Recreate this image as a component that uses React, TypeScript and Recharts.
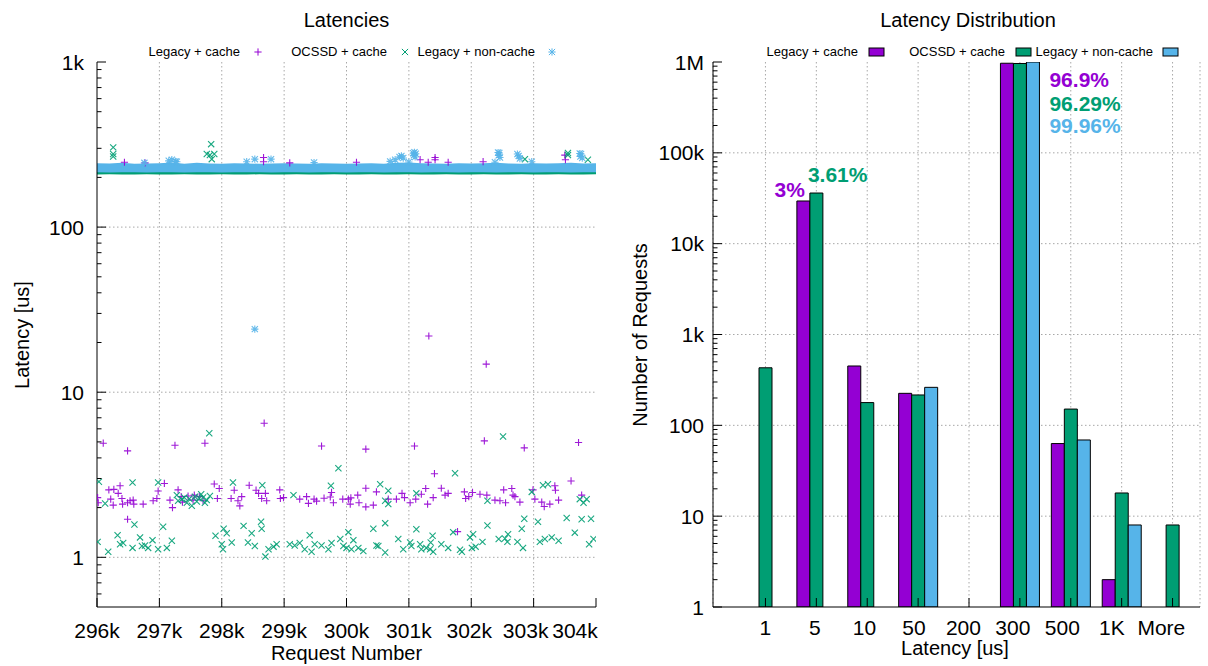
import {
  ComposedChart,
  BarChart,
  Bar,
  Area,
  Scatter,
  XAxis,
  YAxis,
  CartesianGrid,
  LabelList,
} from 'recharts'

const PURPLE = '#9400d3'
const GREEN = '#009e73'
const BLUE = '#56b4e9'
const GRID = '#a8a8a8'
const FONT = '"Liberation Sans", Arial, Helvetica, sans-serif'

const seriesNames = ['Legacy + cache', 'OCSSD + cache', 'Legacy + non-cache']

// ---- Latencies (scatter) ----
const reqTicks = [296000, 297000, 298000, 299000, 300000, 301000, 302000, 303000, 304000]
const reqTickLabels = ['296k', '297k', '298k', '299k', '300k', '301k', '302k', '303k', '304k']

const latTicks = [
  0.6, 0.7, 0.8, 0.9, 1, 2, 3, 4, 5, 6, 7, 8, 9, 10, 20, 30, 40, 50, 60, 70, 80, 90,
  100, 200, 300, 400, 500, 600, 700, 800, 900, 1000,
]
const latTickLabels: Record<number, string> = { 1: '1', 10: '10', 100: '100', 1000: '1k' }

// dense band around ~230us, per 200 requests
const bandX = [
  296000, 296200, 296400, 296600, 296800, 297000, 297200, 297400, 297600, 297800, 298000,
  298200, 298400, 298600, 298800, 299000, 299200, 299400, 299600, 299800, 300000, 300200,
  300400, 300600, 300800, 301000, 301200, 301400, 301600, 301800, 302000, 302200, 302400,
  302600, 302800, 303000, 303200, 303400, 303600, 303800, 304000,
]
const blueBandHigh = [
  244, 243, 245, 242, 243, 244, 246, 242, 245, 243, 242, 244, 243, 242, 243, 244, 243, 242,
  244, 243, 242, 243, 244, 242, 245, 246, 244, 243, 242, 244, 243, 244, 245, 243, 242, 244,
  243, 244, 245, 243, 244,
]
const blueBandLow = [
  215, 214, 215, 215, 214, 215, 215, 214, 215, 215, 214, 215, 215, 215, 214, 215, 215, 214,
  215, 215, 214, 215, 215, 214, 215, 215, 214, 215, 215, 214, 215, 215, 214, 215, 215, 214,
  215, 215, 214, 215, 215,
]
const greenBandHigh = [
  222, 222, 222, 222, 222, 222, 222, 222, 222, 222, 222, 222, 222, 222, 222, 222, 222, 222,
  222, 222, 222, 222, 222, 222, 222, 222, 222, 222, 222, 222, 222, 222, 222, 222, 222, 222,
  222, 222, 222, 222, 222,
]
const greenBandLow = [
  208, 209, 208, 208, 209, 208, 208, 209, 208, 208, 209, 208, 208, 209, 208, 208, 209, 208,
  208, 209, 208, 208, 209, 208, 208, 209, 208, 208, 209, 208, 208, 209, 208, 208, 209, 208,
  208, 209, 208, 208, 209,
]

const legacyCachePts: [number, number][] = [
  [296100, 4.91], [296490, 4.41], [297250, 4.77], [297730, 4.91], [298680, 6.49], [299600, 4.72],
  [300310, 4.52], [301090, 4.72], [302210, 5.07], [302850, 4.6], [303720, 4.96],
  [301410, 3.21], [303600, 2.9], [301780, 1.43], [296490, 1.7], [301320, 21.9], [302240, 14.8],
  [296010, 2.3], [296020, 2.14], [296190, 2.56], [296270, 2.58], [296370, 2.71], [296340, 2.44],
  [296220, 2.25], [296260, 2.07], [296400, 2.27], [296410, 2.1], [296490, 2.14], [296530, 2.2],
  [296580, 2.22], [296590, 2.1], [296740, 2.1], [296900, 2.2], [296960, 2.27], [296980, 2.52],
  [297080, 2.8], [297170, 2.22], [297210, 2.0], [297300, 2.56], [297350, 2.33], [297370, 2.16],
  [297460, 2.35], [297540, 2.22], [297560, 2.38], [297640, 2.33], [297700, 2.2], [297880, 2.78],
  [297960, 2.61], [297930, 2.27], [298150, 2.27], [298200, 2.55], [298260, 2.2], [298290, 2.05],
  [298320, 2.33], [298440, 2.73], [298550, 2.55], [298590, 2.44], [298640, 2.27], [298700, 2.44],
  [298720, 2.2], [298930, 2.56], [298940, 2.27], [298990, 2.3], [299250, 2.25], [299360, 2.33],
  [299390, 2.12], [299480, 2.25], [299520, 2.19], [299640, 2.28], [299740, 2.32], [299760, 2.47],
  [299790, 2.14], [299940, 2.25], [300030, 2.25], [300060, 2.1], [300070, 2.29], [300180, 2.38],
  [300200, 2.14], [300310, 2.62], [300310, 2.02], [300430, 2.07], [300480, 2.49], [300670, 2.25],
  [300800, 2.25], [300890, 2.44], [300930, 2.3], [301020, 2.14], [301110, 2.25], [301200, 2.41],
  [301270, 2.61], [301300, 2.1], [301390, 2.3], [301520, 2.62], [301580, 2.38], [301630, 2.44],
  [301890, 2.49], [301910, 2.27], [301960, 2.33], [302020, 2.47], [302140, 2.41], [302250, 2.38],
  [302380, 2.22], [302460, 2.2], [302520, 2.56], [302550, 2.14], [302650, 2.61], [302670, 2.38],
  [302700, 2.33], [302780, 2.16], [302990, 2.56], [303020, 2.25], [303130, 2.16], [303170, 2.03],
  [303260, 2.1], [303340, 2.71], [303350, 2.55], [303400, 2.22], [303770, 2.38],
  [296440, 247], [296770, 245], [298670, 264], [298670, 249], [299090, 245], [300160, 247],
  [301180, 256], [301310, 247], [301420, 264], [301420, 256], [301630, 247], [302190, 249],
  [303500, 273], [303510, 256],
]

const ocssdCachePts: [number, number][] = [
  [297800, 5.64], [299870, 3.46], [302510, 5.39], [301740, 3.23],
  [296030, 2.87], [296570, 2.84], [296980, 2.84], [296130, 2.12], [297280, 2.38], [297360, 2.25],
  [297440, 2.14], [297520, 2.05], [297570, 2.33], [297670, 2.41], [297730, 2.14], [297810, 2.35],
  [297300, 2.2], [297400, 2.3], [297480, 2.26], [297600, 2.18], [297640, 2.28], [297700, 2.3],
  [297760, 2.22], [298180, 2.84], [298650, 2.73], [299150, 2.38], [299750, 2.71],
  [300540, 2.77], [300670, 2.53], [301120, 2.44], [303150, 2.73], [303230, 2.77], [300620, 2.2],
  [300670, 2.1], [302260, 2.2], [302970, 2.49], [303800, 2.14], [303740, 2.25], [303850, 2.25],
  [296010, 1.24], [296180, 1.08], [296330, 1.36], [296370, 1.2], [296420, 1.22], [296570, 1.14],
  [296600, 1.58], [296690, 1.32], [296720, 1.17], [296770, 1.18], [296820, 1.14], [296890, 1.27],
  [296980, 1.12], [297060, 1.53], [297120, 1.14], [297200, 1.26], [297900, 1.35], [298030, 1.49],
  [298080, 1.4], [298000, 1.2], [298020, 1.12], [298160, 1.23], [298350, 1.55], [298420, 1.23],
  [298480, 1.4], [298530, 1.17], [298630, 1.64], [298640, 1.49], [298700, 1.01], [298750, 1.12],
  [298830, 1.16], [298880, 1.2], [299090, 1.2], [299170, 1.18], [299250, 1.22], [299330, 1.12],
  [299410, 1.36], [299440, 1.08], [299490, 1.2], [299600, 1.18], [299710, 1.12], [299760, 1.22],
  [299900, 1.29], [299950, 1.17],
  [300030, 1.42], [300110, 1.27], [300430, 1.49], [300620, 1.61], [300000, 1.14], [300080, 1.12],
  [300190, 1.14], [300270, 1.09], [300480, 1.18], [300510, 1.17], [300620, 1.07], [300830, 1.29],
  [300910, 1.12], [301020, 1.23], [301040, 1.17], [301120, 1.48], [301180, 1.2], [301200, 1.12],
  [301280, 1.14], [301340, 1.12], [301350, 1.23], [301380, 1.35], [301390, 1.08], [301520, 1.2],
  [301630, 1.14], [301710, 1.42], [301820, 1.11], [301850, 1.08], [301980, 1.32], [302010, 1.14],
  [302030, 1.38], [302070, 1.16], [302180, 1.24], [302260, 1.56], [302440, 1.29], [302540, 1.3],
  [302590, 1.38], [302580, 1.24], [302740, 1.24], [302810, 1.49], [302830, 1.14], [302850, 1.71],
  [303070, 1.64], [303100, 1.24], [303180, 1.29], [303290, 1.32], [303400, 1.26], [303530, 1.73],
  [303660, 1.41], [303770, 1.7], [303890, 1.2], [303920, 1.71], [303960, 1.29],
  [296260, 304], [296260, 277], [296260, 268], [297830, 318], [297760, 277], [297810, 273],
  [297880, 277], [297840, 258], [302860, 258], [303550, 273], [303550, 281], [303870, 256],
]

const legacyNonCachePts: [number, number][] = [
  [298530, 24.1],
  [297150, 252], [297200, 256], [297260, 250], [297280, 249], [296760, 245], [298400, 249],
  [298530, 258], [298790, 258], [299480, 246], [300700, 250], [300780, 256], [300850, 266],
  [300880, 270], [300910, 262], [301000, 248], [301070, 280], [301090, 284], [301110, 278],
  [301080, 272], [301100, 266], [302380, 247], [302430, 283], [302450, 281], [302440, 272],
  [302460, 264], [302740, 277], [302760, 270], [302780, 260], [302970, 249], [303740, 279],
  [303760, 277], [303750, 268], [303780, 262],
]

// ---- Latency Distribution (histogram) ----
const latencyBuckets = ['1', '5', '10', '50', '200', '300', '500', '1K', 'More']
const legacyCacheCounts = [null, 29500, 450, 225, null, 969000, 63, 2, null]
const ocssdCacheCounts = [430, 36100, 178, 216, null, 962900, 151, 18, 8]
const legacyNonCacheCounts = [null, null, null, 262, null, 999600, 69, 8, null]
const legacyCachePct = ['', '3%', '', '', '', '96.9%', '', '', '']
const ocssdCachePct = ['', '3.61%', '', '', '', '96.29%', '', '', '']
const legacyNonCachePct = ['', '', '', '', '', '99.96%', '', '', '']

const countTicks = [
  1, 2, 3, 4, 5, 6, 7, 8, 9,
  10, 20, 30, 40, 50, 60, 70, 80, 90,
  100, 200, 300, 400, 500, 600, 700, 800, 900,
  1000, 2000, 3000, 4000, 5000, 6000, 7000, 8000, 9000,
  10000, 20000, 30000, 40000, 50000, 60000, 70000, 80000, 90000,
  100000, 200000, 300000, 400000, 500000, 600000, 700000, 800000, 900000,
  1000000,
]
const countTickLabels: Record<number, string> = {
  1: '1', 10: '10', 100: '100', 1000: '1k', 10000: '10k', 100000: '100k', 1000000: '1M',
}

const bandData = bandX.map((x, i) => ({
  x,
  blue: [blueBandLow[i], blueBandHigh[i]],
  green: [greenBandLow[i], greenBandHigh[i]],
}))
const toPts = (pts: [number, number][]) => pts.map(([x, y]) => ({ x, y }))

const histData = latencyBuckets.map((cat, i) => ({
  cat,
  legacyCache: legacyCacheCounts[i],
  ocssdCache: ocssdCacheCounts[i],
  legacyNonCache: legacyNonCacheCounts[i],
  legacyCachePct: legacyCachePct[i],
  ocssdCachePct: ocssdCachePct[i],
  legacyNonCachePct: legacyNonCachePct[i],
}))

type Mark = 'plus' | 'cross' | 'star'

function markPath(kind: Mark, cx: number, cy: number): string {
  const r = 3.6
  const d = 3.1
  const plus = `M${cx - r},${cy}H${cx + r}M${cx},${cy - r}V${cy + r}`
  const cross = `M${cx - d},${cy - d}L${cx + d},${cy + d}M${cx - d},${cy + d}L${cx + d},${cy - d}`
  if (kind === 'plus') return plus
  if (kind === 'cross') return cross
  return plus + cross
}

function markShape(kind: Mark, color: string) {
  return (p: any) => (
    <path d={markPath(kind, p.cx, p.cy)} stroke={color} strokeWidth={1.1} fill="none" strokeOpacity={0.9} />
  )
}

function yTick(p: any, labels: Record<number, string>, side: 'left' | 'right', gap: number) {
  const v = p.payload.value
  const label = labels[v]
  const len = label === undefined ? 4.5 : 9
  const dir = side === 'left' ? 1 : -1
  return (
    <g>
      <line x1={p.x} x2={p.x + dir * len} y1={p.y} y2={p.y} stroke="#000" strokeWidth={1} />
      {side === 'left' && label !== undefined && (
        <text x={p.x - gap} y={p.y} dy="0.36em" textAnchor="end" fontSize={21} fontFamily={FONT} fill="#000">
          {label}
        </text>
      )}
    </g>
  )
}

function xTick(p: any, label: string | null, top: boolean, dx: number, dy: number) {
  return (
    <g>
      <line x1={p.x} x2={p.x} y1={p.y} y2={top ? p.y + 9 : p.y - 9} stroke="#000" strokeWidth={1} />
      {!top && label !== null && (
        <text x={p.x + dx} y={p.y + dy} dy="0.36em" textAnchor="middle" fontSize={21} fontFamily={FONT} fill="#000">
          {label}
        </text>
      )}
    </g>
  )
}

// the last request labels sit pulled in from the panel edge
const reqLabelShift = [0, 0, 0, 0, 0, 0, -2, -8, -21]

const textStyle = { position: 'absolute' as const, fontFamily: FONT, color: '#000', whiteSpace: 'nowrap' as const }

function LatenciesChart() {
  const legend = [
    { name: seriesNames[0], end: 240, mark: 258, kind: 'plus' as Mark, color: PURPLE },
    { name: seriesNames[1], end: 387, mark: 405, kind: 'cross' as Mark, color: GREEN },
    { name: seriesNames[2], end: 535, mark: 552, kind: 'star' as Mark, color: BLUE },
  ]
  return (
    <div style={{ position: 'absolute', left: 0, top: 0, width: 604, height: 666 }}>
      <div style={{ ...textStyle, left: 97, width: 499, top: 9, textAlign: 'center', fontSize: 20 }}>Latencies</div>
      <svg width={604} height={30} style={{ position: 'absolute', left: 0, top: 38 }}>
        {legend.map((l) => (
          <g key={l.name}>
            <text x={l.end} y={18} textAnchor="end" fontSize={13} fontFamily={FONT} fill="#000">
              {l.name}
            </text>
            <path d={markPath(l.kind, l.mark, 14)} stroke={l.color} strokeWidth={1} fill="none" />
          </g>
        ))}
      </svg>
      <div style={{ position: 'absolute', left: 0, top: 0 }}>
        <ComposedChart width={604} height={666} data={bandData} margin={{ top: 62, right: 8, bottom: 0, left: 0 }}>
          <CartesianGrid
            stroke={GRID}
            strokeDasharray="1.5 2.5"
            horizontalValues={[1, 10, 100]}
            verticalValues={reqTicks.slice(1, -1)}
          />
          <XAxis
            dataKey="x"
            type="number"
            domain={[296000, 304000]}
            allowDataOverflow
            ticks={reqTicks}
            interval={0}
            height={59}
            tickSize={0}
            tickMargin={0}
            tickLine={false}
            axisLine={{ stroke: '#000' }}
            tick={(p: any) => xTick(p, reqTickLabels[p.index], false, reqLabelShift[p.index] ?? 0, 23)}
          />
          <XAxis
            xAxisId="top"
            orientation="top"
            dataKey="x"
            type="number"
            domain={[296000, 304000]}
            allowDataOverflow
            ticks={reqTicks}
            interval={0}
            height={0}
            tickSize={0}
            tickMargin={0}
            tickLine={false}
            axisLine={{ stroke: '#000' }}
            tick={(p: any) => xTick(p, null, true, 0, 0)}
          />
          <YAxis
            type="number"
            scale="log"
            domain={[0.5, 1000]}
            allowDataOverflow
            ticks={latTicks}
            interval={0}
            width={97}
            tickSize={0}
            tickMargin={0}
            tickLine={false}
            axisLine={{ stroke: '#000' }}
            tick={(p: any) => yTick(p, latTickLabels, 'left', 13)}
          />
          <YAxis
            yAxisId="right"
            orientation="right"
            type="number"
            scale="log"
            domain={[0.5, 1000]}
            allowDataOverflow
            ticks={latTicks}
            interval={0}
            width={0}
            tickSize={0}
            tickMargin={0}
            tickLine={false}
            axisLine={{ stroke: '#000' }}
            tick={(p: any) => yTick(p, latTickLabels, 'right', 0)}
          />
          <Scatter
            name={seriesNames[0]}
            data={toPts(legacyCachePts)}
            dataKey="y"
            shape={markShape('plus', PURPLE)}
            isAnimationActive={false}
          />
          <Area
            dataKey="green"
            type="linear"
            stroke="none"
            fill={GREEN}
            fillOpacity={1}
            isAnimationActive={false}
          />
          <Scatter
            name={seriesNames[1]}
            data={toPts(ocssdCachePts)}
            dataKey="y"
            shape={markShape('cross', GREEN)}
            isAnimationActive={false}
          />
          <Area
            dataKey="blue"
            type="linear"
            stroke="none"
            fill={BLUE}
            fillOpacity={1}
            isAnimationActive={false}
          />
          <Scatter
            name={seriesNames[2]}
            data={toPts(legacyNonCachePts)}
            dataKey="y"
            shape={markShape('star', BLUE)}
            isAnimationActive={false}
          />
        </ComposedChart>
      </div>
      <div style={{ ...textStyle, left: 97, width: 499, top: 642, textAlign: 'center', fontSize: 20 }}>
        Request Number
      </div>
      <div
        style={{ ...textStyle, left: 22, top: 335, fontSize: 20, transform: 'translate(-50%, -50%) rotate(-90deg)' }}
      >
        Latency [us]
      </div>
    </div>
  )
}

// slot: position of the series inside its group (0 = left bar)
function pctLabel(slot: number, color: string) {
  return (p: any) => {
    const text = p.value
    if (!text) return null
    const x = Number(p.x)
    const y = Number(p.y)
    const w = Number(p.width)
    let tx: number
    let ty: number
    let anchor: 'start' | 'end' = 'start'
    if (y < 100) {
      // bars that reach the top: labels stacked to the right of the group
      tx = x + w * (3 - slot) + 10
      ty = y + 24 + 23.5 * slot
    } else if (slot === 0) {
      tx = x + w - 5
      ty = y - 4
      anchor = 'end'
    } else {
      tx = x - 2
      ty = y - 11
    }
    return (
      <text x={tx} y={ty} textAnchor={anchor} fontSize={21} fontWeight="bold" fontFamily={FONT} fill={color}>
        {text}
      </text>
    )
  }
}

function DistributionChart() {
  const legend = [
    { name: seriesNames[0], end: 254, box: 265, color: PURPLE },
    { name: seriesNames[1], end: 401, box: 412, color: GREEN },
    { name: seriesNames[2], end: 549, box: 559, color: BLUE },
  ]
  return (
    <div style={{ position: 'absolute', left: 604, top: 0, width: 604, height: 666 }}>
      <div style={{ ...textStyle, left: 264, width: 200, top: 9, textAlign: 'center', fontSize: 20 }}>
        Latency Distribution
      </div>
      <svg width={604} height={30} style={{ position: 'absolute', left: 0, top: 38 }}>
        {legend.map((l) => (
          <g key={l.name}>
            <text x={l.end} y={18} textAnchor="end" fontSize={13} fontFamily={FONT} fill="#000">
              {l.name}
            </text>
            <rect x={l.box} y={10} width={15} height={8} fill={l.color} stroke="#000" strokeWidth={1} />
          </g>
        ))}
      </svg>
      <div style={{ position: 'absolute', left: 0, top: 0 }}>
        <BarChart
          width={604}
          height={666}
          data={histData}
          margin={{ top: 62, right: 8, bottom: 0, left: 0 }}
          barSize={13}
          barGap={0}
        >
          <CartesianGrid
            yAxisId="l"
            stroke={GRID}
            strokeDasharray="1.5 2.5"
            horizontalValues={[10, 100, 1000, 10000, 100000]}
          />
          <XAxis
            dataKey="cat"
            height={59}
            padding={{ left: 27, right: 2 }}
            interval={0}
            tickSize={0}
            tickMargin={0}
            tickLine={false}
            axisLine={{ stroke: '#000' }}
            tick={(p: any) => xTick(p, p.payload.value, false, -1.4 * p.index, 20)}
          />
          <XAxis
            xAxisId="top"
            orientation="top"
            dataKey="cat"
            height={0}
            padding={{ left: 27, right: 2 }}
            interval={0}
            tickSize={0}
            tickMargin={0}
            tickLine={false}
            axisLine={{ stroke: '#000' }}
            tick={(p: any) => xTick(p, null, true, 0, 0)}
          />
          <YAxis
            yAxisId="l"
            type="number"
            scale="log"
            domain={[1, 1000000]}
            allowDataOverflow
            ticks={countTicks}
            interval={0}
            width={109}
            tickSize={0}
            tickMargin={0}
            tickLine={false}
            axisLine={{ stroke: '#000' }}
            tick={(p: any) => yTick(p, countTickLabels, 'left', 9)}
          />
          <YAxis
            yAxisId="r"
            orientation="right"
            type="number"
            scale="log"
            domain={[1, 1000000]}
            allowDataOverflow
            ticks={countTicks}
            interval={0}
            width={0}
            tickSize={0}
            tickMargin={0}
            tickLine={false}
            axisLine={{ stroke: '#000' }}
            tick={(p: any) => yTick(p, countTickLabels, 'right', 0)}
          />
          <Bar yAxisId="l" dataKey="legacyCache" name={seriesNames[0]} fill={PURPLE} stroke="#000" strokeWidth={1} isAnimationActive={false}>
            <LabelList dataKey="legacyCachePct" content={pctLabel(0, PURPLE)} />
          </Bar>
          <Bar yAxisId="l" dataKey="ocssdCache" name={seriesNames[1]} fill={GREEN} stroke="#000" strokeWidth={1} isAnimationActive={false}>
            <LabelList dataKey="ocssdCachePct" content={pctLabel(1, GREEN)} />
          </Bar>
          <Bar yAxisId="l" dataKey="legacyNonCache" name={seriesNames[2]} fill={BLUE} stroke="#000" strokeWidth={1} isAnimationActive={false}>
            <LabelList dataKey="legacyNonCachePct" content={pctLabel(2, BLUE)} />
          </Bar>
        </BarChart>
      </div>
      <div style={{ ...textStyle, left: 251, width: 200, top: 637, textAlign: 'center', fontSize: 20 }}>
        Latency [us]
      </div>
      <div
        style={{ ...textStyle, left: 36, top: 335, fontSize: 20, transform: 'translate(-50%, -50%) rotate(-90deg)' }}
      >
        Number of Requests
      </div>
    </div>
  )
}

export default function App() {
  return (
    <div style={{ position: 'absolute', left: 0, top: 0, width: 1208, height: 666, background: '#fff' }}>
      <LatenciesChart />
      <DistributionChart />
    </div>
  )
}
